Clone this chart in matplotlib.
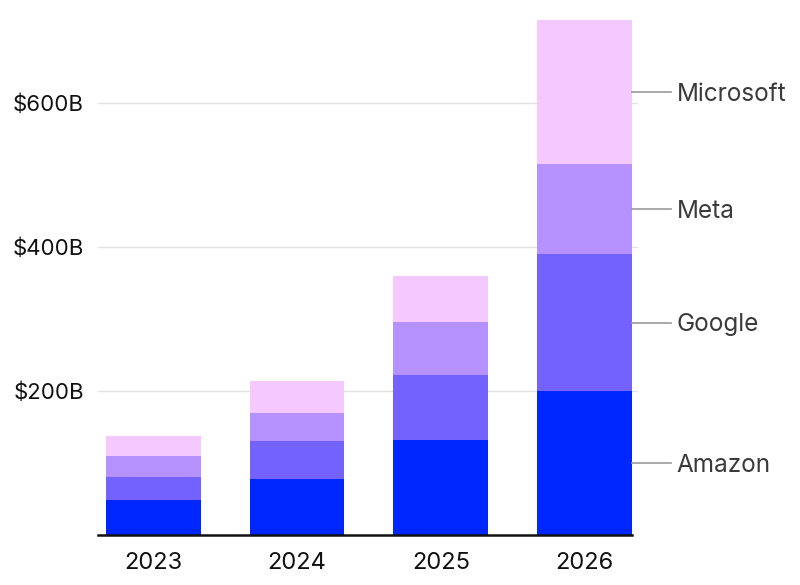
import numpy as np
import matplotlib.pyplot as plt

years = ["2023", "2024", "2025", "2026"]
companies = ["Amazon", "Google", "Meta", "Microsoft"]
amazon = [48, 78, 132, 200]
google = [32, 53, 90, 190]
meta = [30, 39, 74, 125]
microsoft = [28, 44, 64, 200]
colors = ["#0026ff", "#7462ff", "#b592ff", "#f5c8ff"]
yticks = [200, 400, 600]
ytick_labels = ["$200B", "$400B", "$600B"]

plt.rcParams['font.family'] = ['Inter', 'DejaVu Sans']

fig = plt.figure(figsize=(8, 5.85), dpi=100)
ax = fig.add_axes([0.1225, 0.0855, 0.675, 0.886])

x = np.arange(len(years))
series = [amazon, google, meta, microsoft]
bottom = np.zeros(len(years))
for vals, c in zip(series, colors):
    ax.bar(x, vals, bottom=bottom, width=0.66, color=c, zorder=2)
    bottom += np.array(vals)

ax.set_xlim(-0.383, 3.37)
ax.set_ylim(0, 720)
ax.set_xticks(x)
ax.set_xticklabels(years, fontsize=17, color="#111111")
ax.set_yticks(yticks)
ax.set_yticklabels(ytick_labels, fontsize=16, color="#111111")
ax.tick_params(axis='x', length=0, pad=12)
ax.tick_params(axis='y', length=0, pad=10)
ax.grid(axis='y', color="#e2e2e2", linewidth=1, zorder=0)
for s in ["top", "right", "left"]:
    ax.spines[s].set_visible(False)
ax.spines["bottom"].set_linewidth(1.8)
ax.spines["bottom"].set_color("#111111")
ax.spines["bottom"].set_bounds(-0.383, 3.33)

# right-hand labels at middle of each 2026 segment
last = [s[-1] for s in series]
cum = np.cumsum([0] + last)
for i, name in enumerate(companies):
    mid = (cum[i] + cum[i + 1]) / 2
    ax.plot([3.33, 3.6], [mid, mid], color="#999999", linewidth=1.2, clip_on=False, zorder=3)
    ax.text(3.64, mid - 3, name, fontsize=17.5, color="#3a3a3a", va="center", ha="left", clip_on=False)

fig.savefig("out.png", dpi=100)
